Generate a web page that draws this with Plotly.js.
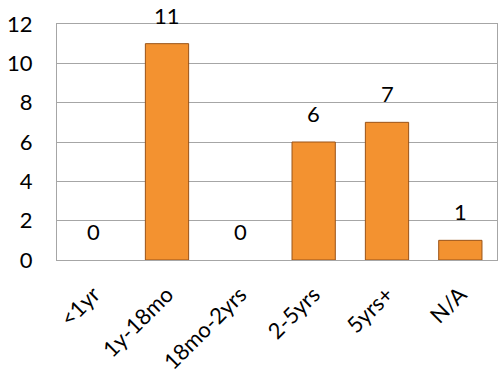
<!DOCTYPE html>
<html>
<head>
<meta charset="utf-8">
<script src="https://cdn.plot.ly/plotly-3.0.1.min.js"></script>
<style>
  html, body { margin: 0; padding: 0; background: #fff; }
  #chart { width: 498px; height: 380px; }
</style>
</head>
<body>
<div id="chart"></div>
<script>
// Duration buckets and counts
const categories = ['<1yr', '1y-18mo', '18mo-2yrs', '2-5yrs', '5yrs+', 'N/A'];
const counts = [0, 11, 0, 6, 7, 1];

const barFill = '#F39230';
const barEdge = '#9A5317';
const gridGray = '#A6A6A6';
const fontFamily = 'Lato, "Open Sans", sans-serif';

const trace = {
  type: 'bar',
  x: categories,
  y: counts,
  marker: {
    color: barFill,
    // empty buckets get no outline so nothing shows on the baseline
    line: { color: barEdge, width: counts.map(v => (v > 0 ? 1 : 0)) }
  },
  hoverinfo: 'x+y'
};

// Value labels sit a little above each bar
const labels = categories.map((c, i) => ({
  x: c,
  y: counts[i],
  text: String(counts[i]),
  showarrow: false,
  xanchor: 'center',
  yanchor: 'bottom',
  yshift: 13,
  font: { family: fontFamily, size: 22, color: '#000' }
}));

const layout = {
  width: 498,
  height: 380,
  margin: { l: 57, r: 1, t: 24, b: 120, pad: 0 },
  paper_bgcolor: '#fff',
  plot_bgcolor: '#fff',
  bargap: 0.41,
  showlegend: false,
  font: { family: fontFamily, size: 22, color: '#000' },
  xaxis: {
    type: 'category',
    tickangle: -45,
    showline: true,
    linecolor: gridGray,
    linewidth: 1,
    mirror: true,
    ticks: '',
    showgrid: false,
    ticklabelstandoff: 12,
    tickfont: { family: fontFamily, size: 22, color: '#000' }
  },
  yaxis: {
    range: [0, 12],
    dtick: 2,
    showgrid: true,
    gridcolor: gridGray,
    gridwidth: 1,
    zeroline: false,
    showline: true,
    linecolor: gridGray,
    linewidth: 1,
    mirror: true,
    ticks: '',
    ticklabelstandoff: 19,
    tickfont: { family: fontFamily, size: 22, color: '#000' }
  },
  annotations: labels
};

Plotly.newPlot('chart', [trace], layout, { displayModeBar: false, staticPlot: true });
</script>
</body>
</html>
